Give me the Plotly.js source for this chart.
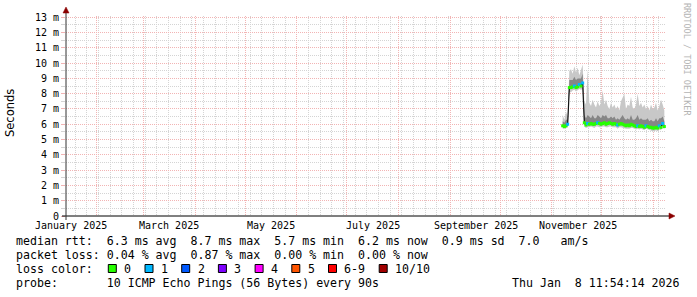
<!DOCTYPE html>
<html><head><meta charset="utf-8">
<script src="https://cdn.plot.ly/plotly-3.0.1.min.js"></script>
<style>html,body{margin:0;padding:0;background:#fff;}</style>
</head><body>
<div id="chart" style="width:697px;height:297px"></div>
<script>
// ---- data (values in milliseconds) ----
const dates = [
 '2025-11-07 12:00','2025-11-08 12:00','2025-11-09 12:00','2025-11-10 12:00','2025-11-11 12:00','2025-11-12 12:00',
 '2025-11-13 12:00','2025-11-14 12:00','2025-11-15 12:00','2025-11-16 12:00','2025-11-17 12:00','2025-11-18 12:00',
 '2025-11-19 12:00','2025-11-20 12:00','2025-11-21 12:00','2025-11-22 12:00','2025-11-23 12:00','2025-11-24 12:00',
 '2025-11-25 12:00','2025-11-26 12:00','2025-11-27 12:00','2025-11-28 12:00','2025-11-29 12:00','2025-11-30 12:00',
 '2025-12-01 12:00','2025-12-02 12:00','2025-12-03 12:00','2025-12-04 12:00','2025-12-05 12:00','2025-12-06 12:00',
 '2025-12-07 12:00','2025-12-08 12:00','2025-12-09 12:00','2025-12-10 12:00','2025-12-11 12:00','2025-12-12 12:00',
 '2025-12-13 12:00','2025-12-14 12:00','2025-12-15 12:00','2025-12-16 12:00','2025-12-17 12:00','2025-12-18 12:00',
 '2025-12-19 12:00','2025-12-20 12:00','2025-12-21 12:00','2025-12-22 12:00','2025-12-23 12:00','2025-12-24 12:00',
 '2025-12-25 12:00','2025-12-26 12:00','2025-12-27 12:00','2025-12-28 12:00','2025-12-29 12:00','2025-12-30 12:00',
 '2025-12-31 12:00','2026-01-01 12:00','2026-01-02 12:00','2026-01-03 12:00','2026-01-04 12:00','2026-01-05 12:00',
 '2026-01-06 12:00','2026-01-07 12:00'];
const median = [5.9,5.85,5.9,6.0,
 8.4,8.4,8.45,8.5,8.4,8.45,8.6,8.5,8.7,
 6.1,5.95,6.05,6.0,6.05,6.0,6.0,6.05,6.1,6.05,6.0,6.05,
 6.1,6.0,6.05,6.1,6.05,6.0,6.05,6.0,5.95,6.0,
 6.05,6.0,5.95,5.9,5.95,5.9,6.0,5.95,5.9,5.85,
 5.9,5.85,5.9,5.85,5.8,5.9,5.85,5.8,5.8,5.75,
 5.75,5.8,5.75,5.9,5.8,6.05,5.85];
const lossCount = [0,0,0,1,
 0,0,0,1,0,0,1,0,1,
 0,0,1,0,0,0,0,0,1,0,0,0,
 0,0,0,0,0,0,0,0,1,0,
 0,0,0,0,0,0,0,0,0,0,
 1,0,0,0,0,1,0,0,0,0,
 0,0,0,1,0,1,0];
const pingMin = [5.7,5.7,5.75,5.8,
 8.1,8.1,8.2,8.25,8.15,8.2,8.3,8.25,8.3,
 5.85,5.75,5.8,5.8,5.85,5.8,5.75,5.85,5.85,5.8,5.8,5.85,
 5.85,5.8,5.8,5.85,5.85,5.8,5.8,5.8,5.7,5.8,
 5.8,5.75,5.75,5.7,5.7,5.7,5.75,5.75,5.7,5.65,
 5.7,5.65,5.7,5.65,5.6,5.7,5.65,5.6,5.6,5.55,
 5.55,5.6,5.55,5.65,5.6,5.8,5.65];
const pingLow = [5.82,5.78,5.83,5.92,
 8.3,8.3,8.35,8.4,8.3,8.35,8.5,8.4,8.55,
 6.0,5.88,5.95,5.92,5.97,5.92,5.9,5.97,6.0,5.96,5.92,5.97,
 6.0,5.92,5.96,6.0,5.96,5.92,5.96,5.92,5.86,5.92,
 5.96,5.92,5.87,5.82,5.86,5.82,5.92,5.86,5.82,5.77,
 5.82,5.77,5.82,5.77,5.72,5.82,5.77,5.72,5.72,5.67,
 5.67,5.72,5.67,5.8,5.72,5.95,5.77];
const pingHigh = [6.2,6.1,6.3,6.3,
 8.9,8.9,8.9,9.1,8.9,9.0,9.0,9.0,9.3,
 6.6,6.4,6.6,6.5,6.4,6.6,6.4,6.4,6.6,6.5,6.4,6.6,
 6.5,6.6,6.4,6.4,6.5,6.4,6.5,6.3,6.4,6.3,
 6.5,6.6,6.4,6.3,6.4,6.3,6.6,6.3,6.3,6.4,
 6.6,6.3,6.4,6.3,6.3,6.3,6.4,6.2,6.3,6.2,
 6.2,6.4,6.2,6.4,6.4,6.5,6.2];
const pingMax = [6.6,6.3,6.8,6.5,
 9.5,9.6,9.3,9.8,9.4,9.7,9.2,9.5,9.9,
 7.5,7.3,9.6,7.4,7.2,7.6,7.3,7.1,7.5,7.2,7.4,8.2,
 7.3,7.6,7.2,7.0,7.4,7.1,7.3,7.0,7.2,6.9,
 7.5,7.7,8.0,7.0,7.3,7.2,7.8,7.1,7.0,7.3,
 8.0,7.2,7.4,7.1,7.3,7.0,7.2,6.9,7.3,7.0,
 7.1,7.4,6.9,7.2,7.6,7.3,6.9];

const xRange = ['2025-01-13 11:54:14','2026-01-08 11:54:14'];
const monthStarts = ['2025-02-01','2025-03-01','2025-04-01','2025-05-01','2025-06-01','2025-07-01',
 '2025-08-01','2025-09-01','2025-10-01','2025-11-01','2025-12-01','2026-01-01'];
const xLabelDates = ['2025-01-16 12:00','2025-03-16 12:00','2025-05-16 12:00','2025-07-16 12:00','2025-09-16 12:00','2025-11-16 12:00'];
const xLabelText = ['January 2025','March 2025','May 2025','July 2025','September 2025','November 2025'];
const yTickVals = [0,1,2,3,4,5,6,7,8,9,10,11,12,13];
const yTickText = ['0','1 m','2 m','3 m','4 m','5 m','6 m','7 m','8 m','9 m','10 m','11 m','12 m','13 m'];
const lossLevels = [0,1,2,3,4,5,6,10];
const lossLabels = ['0','1','2','3','4','5','6-9','10/10'];
const lossColors = ['#26ff00','#00b8ff','#0059ff','#7e00ff','#ff00ff','#ff5500','#ff0000','#a10000'];
const statLine1 = 'median rtt:  6.3 ms avg  8.7 ms max  5.7 ms min  6.2 ms now  0.9 ms sd  7.0   am/s';
const statLine2 = 'packet loss: 0.04 % avg  0.87 % max  0.00 % min  0.00 % now';
const probeLine = 'probe:       10 ICMP Echo Pings (56 Bytes) every 90s';
const stampText = 'Thu Jan  8 11:54:14 2026';
const yTitle = 'Seconds';
const watermark = 'RRDTOOL / TOBI OETIKER';

// ---- helpers ----
const L = 66, T = 16, W = 600, H = 200;
const px = v => (v - L) / W;
const py = v => (T + H - v) / H;
const nb = s => s.replace(/ /g, '\u00a0');
const MONO = 'DejaVu Sans Mono';
function colorForLoss(n){
  let c = lossColors[0];
  for (let k = 0; k < lossLevels.length; k++) if (n >= lossLevels[k]) c = lossColors[k];
  return c;
}

const traces = [
  {x: dates, y: pingMin, mode:'lines', line:{width:0, color:'#c4c4c4'}, hoverinfo:'skip', showlegend:false},
  {x: dates, y: pingMax, mode:'lines', line:{width:0, color:'#c4c4c4'}, fill:'tonexty', fillcolor:'#c8c8c8', hoverinfo:'skip', showlegend:false},
  {x: dates, y: pingLow, mode:'lines', line:{width:0, color:'#888'}, hoverinfo:'skip', showlegend:false},
  {x: dates, y: pingHigh, mode:'lines', line:{width:0, color:'#888'}, fill:'tonexty', fillcolor:'#868686', hoverinfo:'skip', showlegend:false},
  {x: dates, y: median, mode:'lines', line:{width:1.2, color:'#111'}, hoverinfo:'skip', showlegend:false},
  {x: dates, y: median, mode:'markers', marker:{symbol:'square', size:3, color: lossCount.map(colorForLoss), line:{width:0}}, hoverinfo:'skip', showlegend:false}
];

const annotations = [];
xLabelDates.forEach((d, i) => annotations.push({
  x: d, xref:'x', y: py(225), yref:'paper', text: nb(xLabelText[i]), showarrow:false,
  xanchor:'center', yanchor:'middle', font:{family:MONO, size:10, color:'#000'}
}));
const legFont = {family:MONO, size:11.6, color:'#000'};
function addText(t, x, y, anchor){
  annotations.push({x: px(x), xref:'paper', y: py(y), yref:'paper', text: nb(t), showarrow:false,
    xanchor: anchor || 'left', yanchor:'middle', font: legFont, borderpad:0});
}
addText(statLine1, 15, 241);
addText(statLine2, 15, 255);
addText('loss color:', 15, 269);
addText(probeLine, 15, 283);
addText(stampText, 681, 283, 'right');

const shapes = [];
let bx = 108.3;
lossLabels.forEach((lab, k) => {
  shapes.push({type:'rect', xref:'paper', yref:'paper', x0: px(bx), x1: px(bx+8), y0: py(272.5), y1: py(264.5),
    fillcolor: lossColors[k], line:{color:'#000', width:1}});
  addText(lab, bx + 15, 269);
  bx += 8 + 7 + lab.length * 7 + 14.7;
});

annotations.push({x: px(10), xref:'paper', y: py(113), yref:'paper', text: yTitle, showarrow:false, textangle:-90,
  xanchor:'center', yanchor:'middle', font:{family:'DejaVu Sans', size:11.5, color:'#000'}});
annotations.push({x: px(687), xref:'paper', y: py(59), yref:'paper', text: nb(watermark), showarrow:false, textangle:90,
  xanchor:'center', yanchor:'middle', font:{family:MONO, size:8.5, color:'#b4b4b4'}});

// axis lines and arrows
shapes.push({type:'line', xref:'paper', yref:'paper', x0: px(62), x1: px(670), y0: 0, y1: 0, line:{color:'#000', width:1}});
shapes.push({type:'line', xref:'paper', yref:'paper', x0: 0, x1: 0, y0: py(220), y1: py(11), line:{color:'#333', width:1}});
shapes.push({type:'path', xref:'paper', yref:'paper',
  path: `M ${px(669)} ${py(213)} L ${px(675)} ${py(216)} L ${px(669)} ${py(219)} Z`, fillcolor:'#8b0000', line:{color:'#8b0000', width:0.5}});
shapes.push({type:'path', xref:'paper', yref:'paper',
  path: `M ${px(63)} ${py(13)} L ${px(66)} ${py(7)} L ${px(69)} ${py(13)} Z`, fillcolor:'#8b0000', line:{color:'#8b0000', width:0.5}});

const MGRID = '#f2b4b4', GRID = '#d4d4d4', DASH = '1px,1px';
const layout = {
  width:697, height:297, margin:{l:L, r:697-L-W, t:T, b:297-T-H, pad:0},
  paper_bgcolor:'#fff', plot_bgcolor:'#fff', showlegend:false,
  xaxis:{type:'date', range: xRange, tickmode:'array', tickvals: monthStarts, showticklabels:false, ticks:'',
    showgrid:true, gridcolor: MGRID, griddash: DASH, gridwidth:1, zeroline:false, showline:false, fixedrange:true,
    minor:{tickmode:'linear', tick0:'2025-01-05', dtick: 604800000, showgrid:true, gridcolor: GRID, griddash: DASH, gridwidth:1, ticks:''}},
  yaxis:{range:[0, 13.08], tickmode:'array', tickvals: yTickVals, ticktext: yTickText,
    tickfont:{family:MONO, size:10, color:'#000'}, ticks:'outside', ticklen:4, tickcolor: MGRID, tickwidth:1,
    showgrid:true, gridcolor: MGRID, griddash: DASH, gridwidth:1, zeroline:false, showline:false, fixedrange:true,
    minor:{tickmode:'linear', tick0:0, dtick:0.5, showgrid:true, gridcolor: GRID, griddash: DASH, gridwidth:1, ticks:'outside', ticklen:4, tickcolor: GRID}},
  annotations, shapes
};
Plotly.newPlot('chart', traces, layout, {staticPlot:true, displayModeBar:false});
</script>
</body></html>
